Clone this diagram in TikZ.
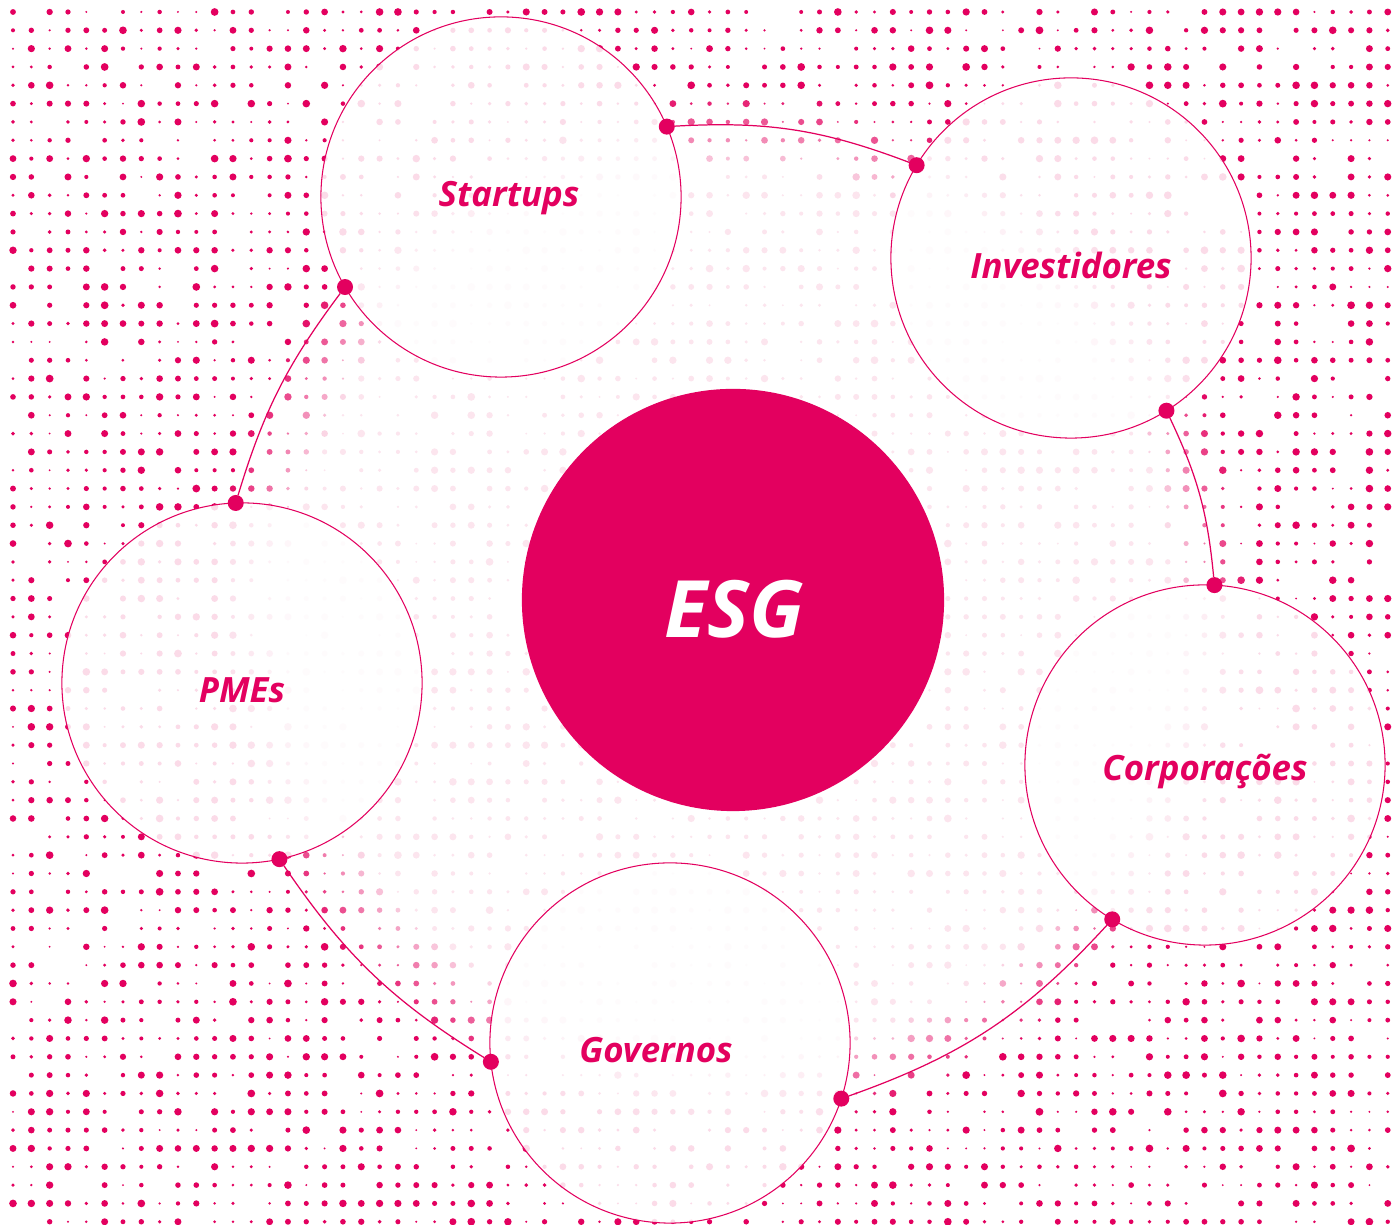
\documentclass[tikz,border=0pt]{standalone}
\usepackage{fontspec}
\setmainfont{Open Sans}
\usepackage{tikz}
\usetikzlibrary{arrows}
\definecolor{esgpink}{HTML}{E3005F}

\begin{document}
\begin{tikzpicture}[x=0.01cm,y=0.01cm,thick]
		\tikzstyle{actor}=[circle,draw=esgpink,line width=0.3pt,fill=white,fill opacity=0.86,minimum size=3.6cm,inner sep=0pt,outer sep=0pt]
		\tikzstyle{caption}=[text=esgpink,inner sep=0pt,font=\fontsize{9.9}{12}\bfseries\itshape]
		\tikzstyle{core}=[circle,fill=esgpink,minimum size=4.22cm,inner sep=0pt]
		\tikzstyle{corecaption}=[text=white,inner sep=0pt,font=\fontsize{22.5}{26}\bfseries\itshape]
		\tikzstyle{joint}=[circle,fill=esgpink,minimum size=0.16cm,inner sep=0pt,outer sep=0pt]
		\tikzstyle{link}=[draw=esgpink,line width=0.35pt]
		
		\useasboundingbox (0,0) rectangle (1396,1225);
		\fill[white] (0,0) rectangle (1396,1225);
		
		% dotted background
		\pgfmathsetseed{11}
		\foreach \i in {0,...,75}{
			\foreach \j in {0,...,66}{
				\pgfmathsetmacro\px{13+18.33*\i}
				\pgfmathsetmacro\py{1213-18.33*\j}
				\pgfmathsetmacro\dd{veclen(\px-733,\py-615)}
				\pgfmathsetmacro\op{max(0.1,min(1,(\dd-430)/90))}
				\pgfmathsetmacro\sz{(1+2.9*rnd)*0.2845}
				\pgfmathtruncatemacro\keep{rnd>0.12 ? 1 : 0}
				\ifnum\keep=1
					\fill[esgpink,opacity=\op] (\px,\py) circle[radius=\sz pt];
				\fi
			}
		}
		
		\node[actor] (st) at (501,1028) {};
		\node[actor] (inv) at (1071,967) {};
		\node[actor] (corp) at (1205,460) {};
		\node[actor] (gov) at (670,182) {};
		\node[actor] (pme) at (242,542) {};
		\node[core] (esg) at (733,625) {};
		
		\node[caption] (st_t) at (509,1027) {Startups};
		\node[caption] (inv_t) at (1071,960) {Investidores};
		\node[caption] (corp_t) at (1205,453) {Corporações};
		\node[caption] (gov_t) at (656,175) {Governos};
		\node[caption] (pme_t) at (242,535) {PMEs};
		\node[corecaption] (esg_t) at (734,616) {ESG};
		
		\node[joint] (st_a) at (st.23) {};
		\node[joint] (inv_a) at (inv.149) {};
		\node[joint] (inv_b) at (inv.-58) {};
		\node[joint] (corp_a) at (corp.87) {};
		\node[joint] (corp_b) at (corp.-121) {};
		\node[joint] (gov_a) at (gov.-18) {};
		\node[joint] (gov_b) at (gov.186) {};
		\node[joint] (pme_a) at (pme.-78) {};
		\node[joint] (pme_b) at (pme.92) {};
		\node[joint] (st_b) at (st.210) {};
		
		\path[link]
		(st_a) edge [bend left=12] (inv_a)
		(inv_b) edge [bend left=10] (corp_a)
		(corp_b) edge [bend left=14] (gov_a)
		(gov_b) edge [bend left=12] (pme_a)
		(pme_b) edge [bend left=10] (st_b);
		
	\end{tikzpicture}
\end{document}
